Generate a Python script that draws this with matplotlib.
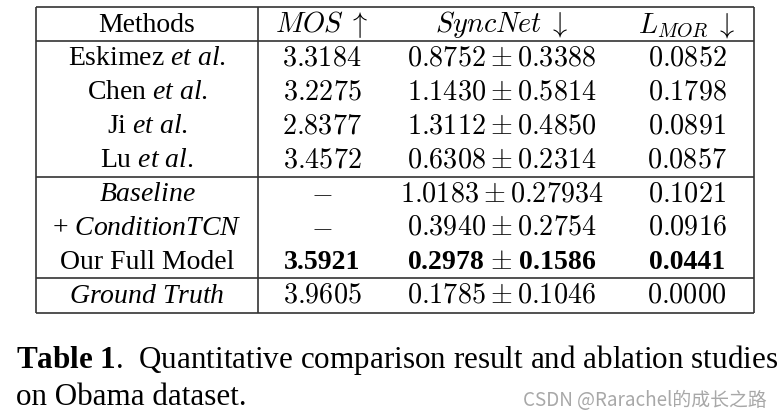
import matplotlib
matplotlib.use("Agg")
import matplotlib.pyplot as plt

plt.rcParams["font.family"] = ["Liberation Serif", "DejaVu Serif"]
plt.rcParams["mathtext.fontset"] = "custom"
plt.rcParams["mathtext.rm"] = "Liberation Serif"
plt.rcParams["mathtext.it"] = "Liberation Serif:italic"
plt.rcParams["mathtext.bf"] = "Liberation Serif:bold"

# table content
headers = [r"Methods", r"$MOS\;\uparrow$", r"$SyncNet\;\downarrow$", r"$L_{MOR}\;\downarrow$"]
methods = [r"Eskimez $\mathit{et\ al.}$", r"Chen $\mathit{et\ al.}$", r"Ji $\mathit{et\ al.}$",
           r"Lu $\mathit{et\ al.}$", r"$\mathit{Baseline}$", r"+ $\mathit{ConditionTCN}$",
           r"Our Full Model", r"$\mathit{Ground\ Truth}$"]
mos = ["3.3184", "3.2275", "2.8377", "3.4572", None, None, "3.5921", "3.9605"]
sync_mean = ["0.8752", "1.1430", "1.3112", "0.6308", "1.0183", "0.3940", "0.2978", "0.1785"]
sync_std = ["0.3388", "0.5814", "0.4850", "0.2314", "0.27934", "0.2754", "0.1586", "0.1046"]
lmor = ["0.0852", "0.1798", "0.0891", "0.0857", "0.1021", "0.0916", "0.0441", "0.0000"]
best_row = 6

caption_bold = "Table 1"
caption_rest = ".  Quantitative comparison result and ablation studies"
caption_line2 = "on Obama dataset."
watermark = "CSDN @Rarachel的成长之路"

fig = plt.figure(figsize=(7.82, 4.19), dpi=100)
ax = fig.add_axes([0, 0, 1, 1])
ax.set_xlim(0, 782)
ax.set_ylim(419, 0)
ax.axis("off")

left, right, mid = 36, 754, 258
top, head_bot, bottom = 7, 41, 313
row_h = 33.9
col_x = [147, 322, 502, 687]
fs = 20
fs_num = 20.3
lc = "#333333"

def row_y(i):
    return head_bot + row_h * (i + 0.5)

# frame and rules
for y in [top, head_bot, row_y(3.5), row_y(6.5), bottom]:
    ax.plot([left, right], [y, y], color=lc, lw=1.2, solid_capstyle="butt")
for x in [left, mid, right]:
    ax.plot([x, x], [top, bottom], color=lc, lw=1.2, solid_capstyle="butt")

for j, h in enumerate(headers):
    if j == 0:
        ax.text(col_x[j], (top + head_bot) / 2 + 1, h, ha="center", va="center", fontsize=fs)
    else:
        ax.text(col_x[j], (top + head_bot) / 2 + 1, h, ha="center", va="center",
                fontsize=fs_num, math_fontfamily="cm")

for i in range(len(methods)):
    y = row_y(i) + 1
    bold = i == best_row
    ax.text(col_x[0], y, methods[i], ha="center", va="center", fontsize=fs)
    if mos[i] is None:
        ax.text(col_x[1], y, r"$-$", ha="center", va="center", fontsize=fs_num,
                math_fontfamily="cm")
    elif bold:
        ax.text(col_x[1], y, mos[i], ha="center", va="center", fontsize=fs, fontweight="bold")
    else:
        ax.text(col_x[1], y, "$" + mos[i] + "$", ha="center", va="center", fontsize=fs_num,
                math_fontfamily="cm")
    if bold:
        ax.text(col_x[2], y, sync_mean[i] + r" $\pm$ " + sync_std[i], ha="center", va="center",
                fontsize=fs, fontweight="bold", math_fontfamily="cm")
        ax.text(col_x[3], y, lmor[i], ha="center", va="center", fontsize=fs, fontweight="bold")
    else:
        ax.text(col_x[2], y, "$" + sync_mean[i] + r" \pm " + sync_std[i] + "$", ha="center",
                va="center", fontsize=fs_num, math_fontfamily="cm")
        ax.text(col_x[3], y, "$" + lmor[i] + "$", ha="center", va="center", fontsize=fs_num,
                math_fontfamily="cm")

# caption
ax.text(16, 368, r"$\mathbf{" + caption_bold.replace(" ", r"\ ") + "}$" + caption_rest,
        ha="left", va="baseline", fontsize=22.4)
ax.text(16, 405, caption_line2, ha="left", va="baseline", fontsize=22.4)
ax.text(767, 406, watermark, ha="right", va="baseline", fontsize=13.6, color="#a8a8a8",
        family=["Noto Sans CJK SC", "DejaVu Sans"])

fig.savefig("out.png", dpi=100)
